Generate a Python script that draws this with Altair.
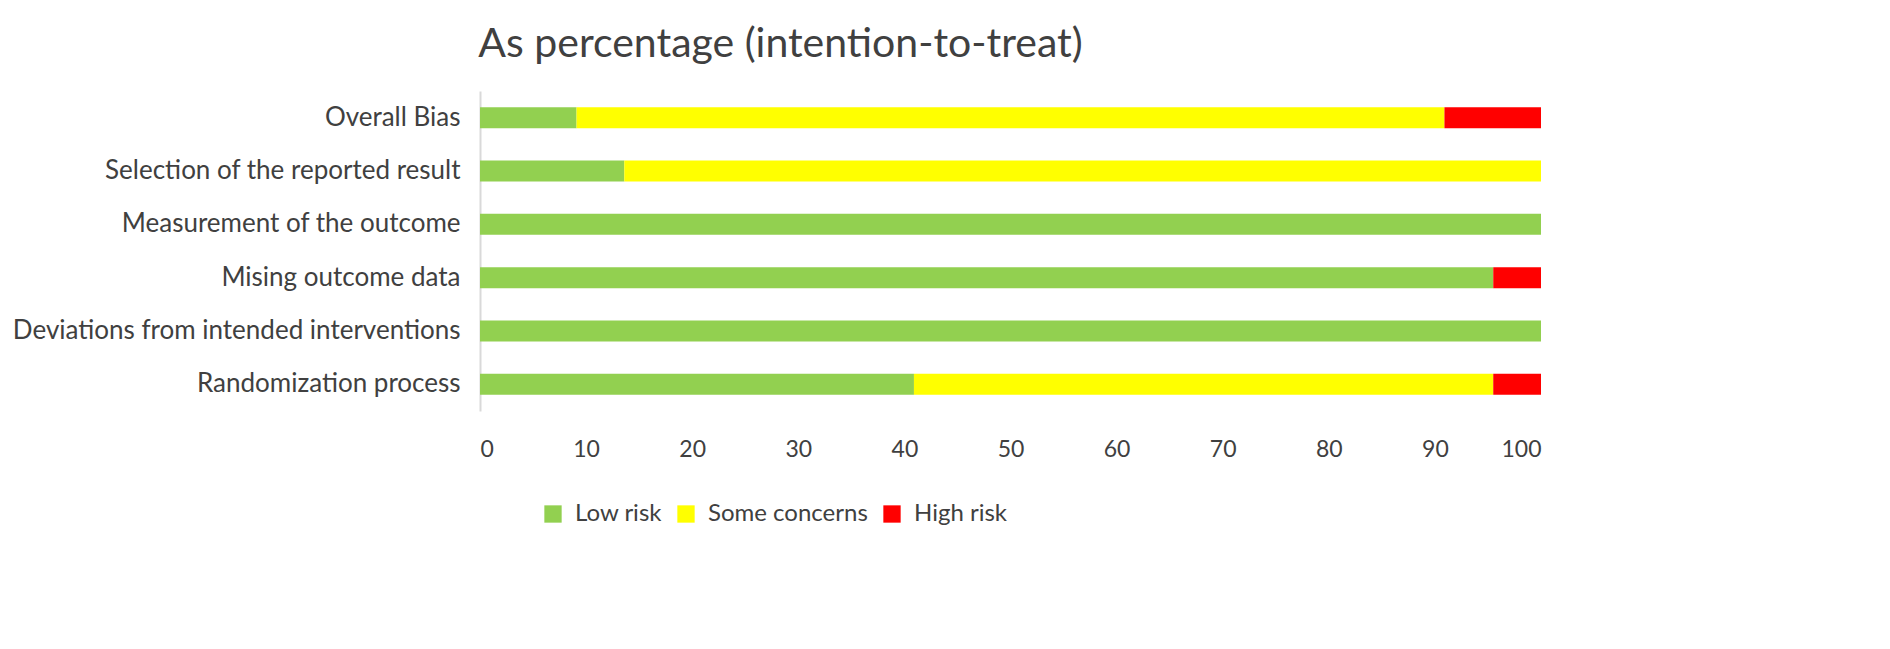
import altair as alt
import pandas as pd

# Risk-of-bias domains, top to bottom
domains = [
    "Overall Bias",
    "Selection of the reported result",
    "Measurement of the outcome",
    "Mising outcome data",
    "Deviations from intended interventions",
    "Randomization process",
]
low_risk = [9.1, 13.6, 100.0, 95.5, 100.0, 40.9]
some_concerns = [81.8, 86.4, 0.0, 0.0, 0.0, 54.6]
high_risk = [9.1, 0.0, 0.0, 4.5, 0.0, 4.5]

levels = ["Low risk", "Some concerns", "High risk"]
colors = ["#92D050", "#FFFF00", "#FF0000"]
x_ticks = list(range(0, 101, 10))

rows = []
for i, d in enumerate(domains):
    for k, vals in enumerate([low_risk, some_concerns, high_risk]):
        rows.append({"domain": d, "risk": levels[k], "rank": k, "pct": vals[i]})
df = pd.DataFrame(rows)

font = "Lato"

chart = alt.Chart(df).mark_bar(size=21).encode(
    x=alt.X("pct:Q", stack="zero", title=None,
            scale=alt.Scale(domain=[0, 100], nice=False),
            axis=alt.Axis(values=x_ticks, domain=False, ticks=False, grid=False,
                          labelPadding=27, labelFontSize=23, labelColor="#404040",
                          labelFont=font)),
    y=alt.Y("domain:N", sort=domains, title=None,
            axis=alt.Axis(domain=True, domainColor="#d9d9d9", domainWidth=2,
                          ticks=False, labelPadding=20, labelFontSize=26,
                          labelColor="#404040", labelFont=font, labelLimit=700)),
    color=alt.Color("risk:N", sort=levels,
                    scale=alt.Scale(domain=levels, range=colors),
                    legend=alt.Legend(title=None, orient="none", direction="horizontal",
                                      legendX=61, legendY=411, symbolType="square",
                                      symbolSize=300, symbolStrokeWidth=0,
                                      labelFontSize=24, labelFont=font,
                                      labelColor="#404040", columnPadding=12,
                                      symbolOffset=0, labelOffset=10)),
    order=alt.Order("rank:Q"),
).properties(
    width=1061,
    height=320,
    autosize=alt.AutoSizeParams(type="none"),
    padding={"left": 472, "top": 83, "right": 340, "bottom": 130},
    title=alt.TitleParams("As percentage (intention-to-treat)", anchor="middle",
                          frame="group", dx=-230, offset=25, fontSize=41,
                          font=font, fontWeight="normal", color="#404040"),
).configure_view(strokeWidth=0)

chart.save("out.html", embed_options={"renderer": "svg", "actions": False})
